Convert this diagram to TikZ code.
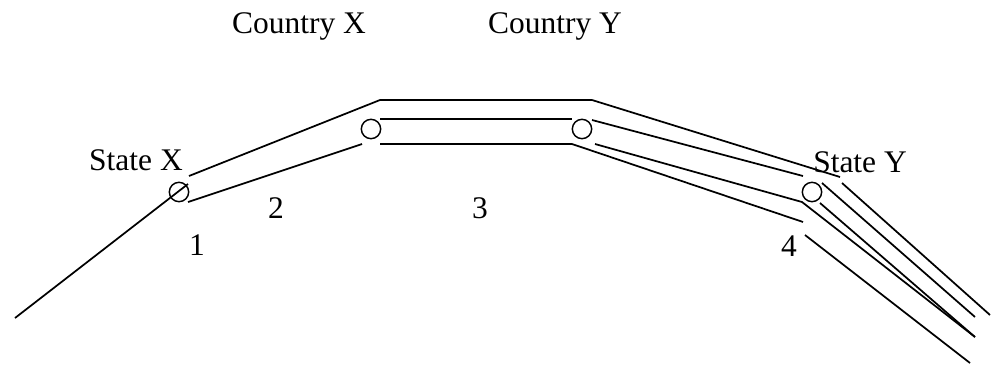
\documentclass[tikz,border=0pt]{standalone}
\usepackage{fontspec}
\setmainfont{Liberation Serif}
\begin{document}
\begin{tikzpicture}[x=0.75pt,y=-0.75pt,
  wire/.style={line width=1.3pt,line join=miter},
  hub/.style={circle,draw,line width=1.1pt,minimum size=14.5pt,inner sep=0pt},
  lbl/.style={anchor=base,inner sep=0pt,font=\fontsize{23.6}{28}\selectfont}]
\useasboundingbox (0,0) rectangle (991,365);

% junction circles
\node[hub] (sx) at (179,192) {};
\node[hub] (cx) at (371,129) {};
\node[hub] (cy) at (582,129) {};
\node[hub] (sy) at (812,192) {};

% labels
\node[lbl] (tcx) at (299,33) {Country X};
\node[lbl] (tcy) at (555,33) {Country Y};
\node[lbl] (tsx) at (136,170) {State X};
\node[lbl] (tsy) at (860,172) {State Y};
\node[lbl] (n1) at (197,255) {1};
\node[lbl] (n2) at (276,218) {2};
\node[lbl] (n3) at (480,218) {3};
\node[lbl] (n4) at (789,256) {4};

% approach to State X
\draw[wire] (15,318) -- (188,184);

% outer band
\draw[wire] (189,176) -- (380,100) -- (592,100) -- (840,177);
\draw[wire] (842,183) -- (990,315);

% segment 2 lower edge
\draw[wire] (188,202) -- (362,144);

% segment 3
\draw[wire] (380,119) -- (572,119);
\draw[wire] (380,144) -- (572,144) -- (803,222);

% segment 4
\draw[wire] (592,120) -- (803,176);
\draw[wire] (595,144) -- (802,202) -- (975,337);
\draw[wire] (820,203) -- (975,337);
\draw[wire] (822,183) -- (975,317);
\draw[wire] (805,235) -- (970,363);
\end{tikzpicture}
\end{document}
